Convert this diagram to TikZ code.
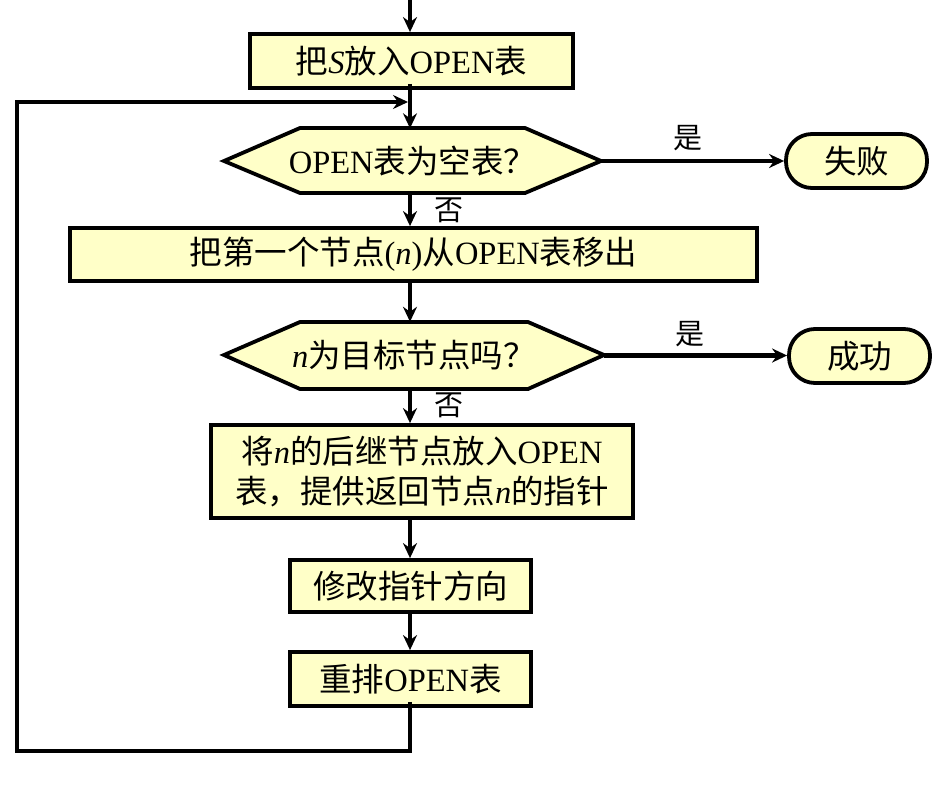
\documentclass[tikz,border=0pt]{standalone}
\usepackage{fontspec}
\setmainfont{Liberation Serif}
\newfontfamily\cjk{Noto Sans CJK SC}
\usetikzlibrary{arrows.meta}
\definecolor{boxfill}{RGB}{255,255,200}
\newcommand\zh[1]{{\cjk #1}}
\begin{document}
\begin{tikzpicture}[x=1pt,y=-1pt,
  conn/.style={line width=4.8pt},
  arr/.style={conn,-{Stealth[length=15pt,width=14pt,inset=5pt]}},
  box/.style={draw,fill=boxfill,line width=3.8pt,inner sep=0pt,align=center,
    font=\fontsize{32.5}{40}\selectfont},
  term/.style={box,rounded corners=26pt},
  hexa/.style={draw,fill=boxfill,line width=3.8pt,line join=miter},
  lbl/.style={inner sep=0pt,font=\fontsize{29}{30}\selectfont\cjk},
  hexlbl/.style={inner sep=0pt,font=\fontsize{32.5}{36}\selectfont}]
\useasboundingbox (0,0) rectangle (933,789);

% hexagons
\draw[hexa] (224,161) -- (300,128) -- (525,128) -- (601,161) -- (525,193) -- (300,193) -- cycle;
\draw[hexa] (224,355) -- (300,322) -- (528,322) -- (604,355) -- (528,389) -- (300,389) -- cycle;
\node[hexlbl,minimum width=377pt,minimum height=65pt] (d1) at (412.5,161) {OPEN\zh{表为空表？}};
\node[hexlbl,minimum width=380pt,minimum height=67pt] (d2) at (414,355.5) {\textit{n}\zh{为目标节点吗？}};

% boxes
\node[box,minimum width=323pt,minimum height=54pt] (b1) at (411.5,61) {\zh{把}\textit{S}\zh{放入}OPEN\zh{表}};
\node[box,minimum width=687pt,minimum height=53pt] (b2) at (413.5,254.5) {\zh{把第一个节点}(\textit{n})\zh{从}OPEN\zh{表移出}};
\node[box,minimum width=422pt,minimum height=93pt] (b3) at (422,471.5) {\zh{将}\textit{n}\zh{的后继节点放入}OPEN\\\zh{表，提供返回节点}\textit{n}\zh{的指针}};
\node[box,minimum width=241pt,minimum height=52pt] (b4) at (410.5,586) {\zh{修改指针方向}};
\node[box,minimum width=241pt,minimum height=54pt] (b5) at (410.5,679) {\zh{重排}OPEN\zh{表}};
\node[term,minimum width=141pt,minimum height=54pt] (fail) at (856.5,161) {\zh{失败}};
\node[term,minimum width=141pt,minimum height=54pt] (succ) at (859.5,356) {\zh{成功}};

% labels
\node[lbl] (y1) at (688,138) {是};
\node[lbl] (y2) at (690,334) {是};
\node[lbl] (n1) at (449,210) {否};
\node[lbl] (n2) at (449,405) {否};

% connectors
\coordinate (top) at (410,0);
\coordinate (lt) at (17,102);
\coordinate (lb) at (17,751);
\draw[arr] (top) -- (top |- b1.north);
\draw[arr] ([yshift=6pt]top |- b1.south) -- (top |- d1.north);
\draw[arr] (top |- d1.south) -- (top |- b2.north);
\draw[arr] (top |- b2.south) -- (top |- d2.north);
\draw[arr] (top |- d2.south) -- (top |- b3.north);
\draw[arr] (top |- b3.south) -- (top |- b4.north);
\draw[arr] (top |- b4.south) -- (top |- b5.north);
\draw[arr] (d1.east) -- (d1.east -| fail.west);
\draw[arr] (d2.east) -- (d2.east -| succ.west);
\draw[arr,line join=miter] ([yshift=6pt]top |- b5.south) -- (top |- lb) -- (lb) -- (lt) -- ([xshift=-2pt]top |- lt);
\end{tikzpicture}
\end{document}
